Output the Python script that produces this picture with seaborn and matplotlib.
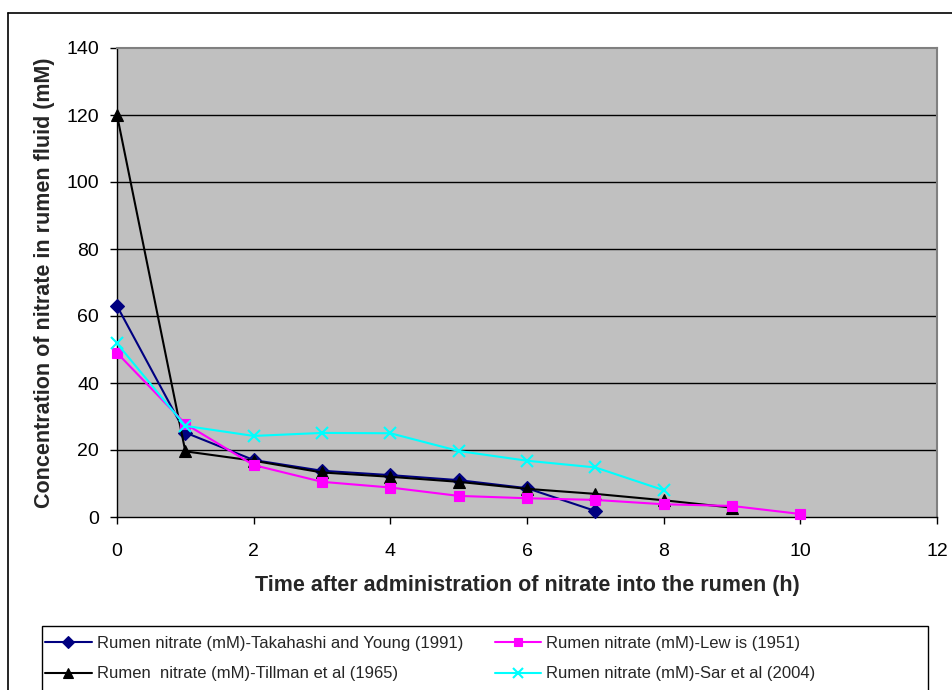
import matplotlib
matplotlib.use("Agg")
import matplotlib.pyplot as plt
import seaborn as sns
import pandas as pd
from matplotlib.lines import Line2D
from matplotlib.patches import Rectangle

# ---- data ----
takahashi_x = [0, 1, 2, 3, 4, 5, 6, 7]
takahashi_y = [63, 25.2, 17, 13.8, 12.5, 11, 8.6, 1.8]
lewis_x = [0, 1, 2, 3, 4, 5, 6, 7, 8, 9, 10]
lewis_y = [49, 27.8, 15.5, 10.5, 8.8, 6.3, 5.6, 5.1, 3.8, 3.3, 0.9]
tillman_x = [0, 1, 2, 3, 4, 5, 6, 7, 8, 9]
tillman_y = [120, 19.6, 16.8, 13.3, 12.0, 10.5, 8.4, 6.9, 5.0, 2.8]
sar_x = [0, 1, 2, 3, 4, 5, 6, 7, 8]
sar_y = [51.8, 27.2, 24.2, 25.1, 25.0, 19.7, 16.8, 14.8, 8.0]

names = [
    "Rumen nitrate (mM)-Takahashi and Young (1991)",
    "Rumen  nitrate (mM)-Tillman et al (1965)",
    "Rumen nitrate (mM)-Lew is (1951)",
    "Rumen nitrate (mM)-Sar et al (2004)",
]
series = [(takahashi_x, takahashi_y), (tillman_x, tillman_y),
          (lewis_x, lewis_y), (sar_x, sar_y)]
colors = ["#000080", "#000000", "#FF00FF", "#00FFFF"]
markers = ["D", "^", "s", "x"]
msizes = [7, 9, 7, 9]

x_ticks = [0, 2, 4, 6, 8, 10, 12]
y_ticks = [0, 20, 40, 60, 80, 100, 120, 140]

rows = []
for n, (xs, ys) in zip(names, series):
    for x, y in zip(xs, ys):
        rows.append({"time": x, "conc": y, "series": n})
df = pd.DataFrame(rows)

sns.set_theme(style="white")
plt.rcParams["font.family"] = ["Liberation Sans", "DejaVu Sans"]

W, H = 953, 690
fig = plt.figure(figsize=(W / 100, H / 100), dpi=100)
ax = fig.add_axes([117 / W, 1 - 517 / H, 820 / W, 469 / H])
ax.set_facecolor("#C0C0C0")

# gridlines
for yt in y_ticks[1:-1]:
    ax.axhline(yt, color="black", lw=1.0, zorder=1)

handles = []
for n, c, m, ms in zip(names, colors, markers, msizes):
    sub = df[df["series"] == n]
    sns.lineplot(data=sub, x="time", y="conc", ax=ax, color=c, lw=1.5,
                 marker=m, markersize=ms, markeredgecolor=c,
                 markeredgewidth=1.5 if m == "x" else 0.8,
                 legend=False, zorder=3, clip_on=False)
    handles.append(Line2D([0], [0], color=c, lw=1.5, marker=m,
                          markersize=ms * 0.85, markeredgecolor=c,
                          markeredgewidth=1.5 if m == "x" else 0.8))

ax.set_xlim(0, 12)
ax.set_ylim(0, 140)
ax.set_xticks(x_ticks)
ax.set_yticks(y_ticks)
ax.tick_params(axis="both", which="both", direction="out", length=5,
               width=1, color="black", labelsize=14, labelcolor="black",
               bottom=True, left=True)
ax.tick_params(axis="x", pad=14)
ax.tick_params(axis="y", pad=8)

for s in ["top", "right"]:
    ax.spines[s].set_color("#808080")
    ax.spines[s].set_linewidth(1.5)
for s in ["bottom", "left"]:
    ax.spines[s].set_color("black")
    ax.spines[s].set_linewidth(1.0)

ax.set_xlabel("")
ax.set_ylabel("")
fig.text(527 / W, 1 - 585 / H,
         "Time after administration of nitrate into the rumen (h)",
         ha="center", va="center", fontsize=15.5, fontweight="bold")
fig.text(45 / W, 1 - 283 / H,
         "Concentration of nitrate in rumen fluid (mM)",
         ha="center", va="center", rotation=90, fontsize=15.5,
         fontweight="bold")

# outer chart border (left and top visible)
fig.add_artist(Line2D([8 / W, 8 / W], [0, 1 - 13 / H], color="black",
                      lw=1.2, transform=fig.transFigure))
fig.add_artist(Line2D([8 / W, 1], [1 - 13 / H, 1 - 13 / H], color="black",
                      lw=1.2, transform=fig.transFigure))

# legend frame
fig.add_artist(Rectangle((42 / W, -0.05), (928 - 42) / W, 0.05 + (690 - 626) / H,
                         transform=fig.transFigure, fill=False,
                         edgecolor="black", lw=1.0))

leg = fig.legend(handles, names, ncol=2, loc="upper left",
                 bbox_to_anchor=(45 / W, 1 - 636 / H),
                 frameon=False, handlelength=2.8, handletextpad=0.3,
                 columnspacing=1.9, borderpad=0.0, borderaxespad=0.0,
                 labelspacing=0.92,
                 prop={"family": ["Liberation Sans Narrow", "Liberation Sans"],
                       "size": 12})

fig.savefig("out.png", dpi=100)
